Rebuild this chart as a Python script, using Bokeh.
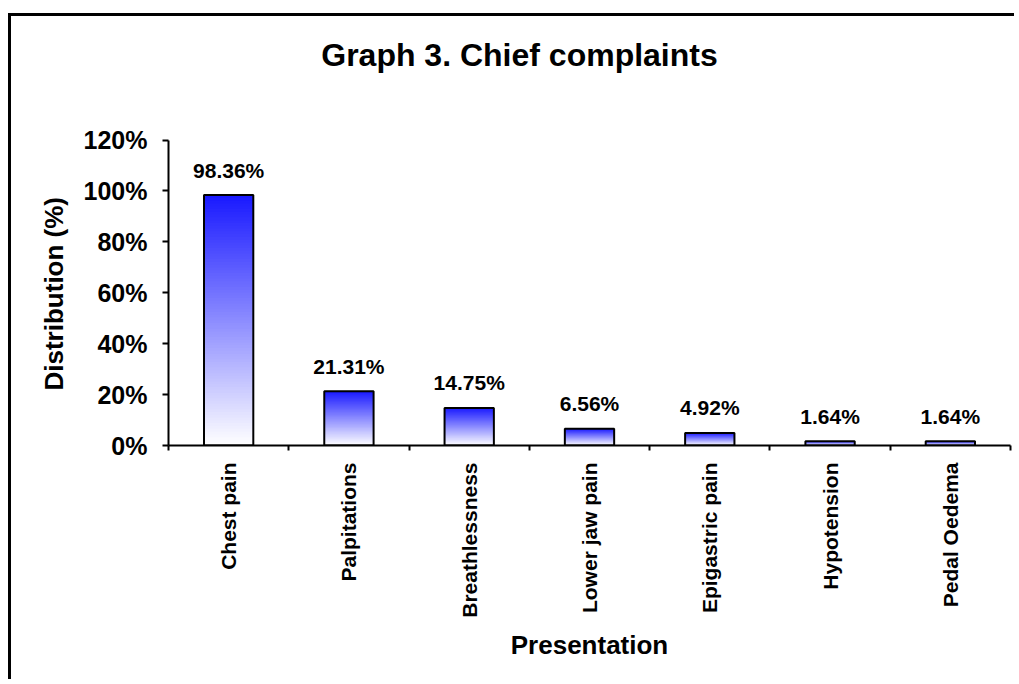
import math
from bokeh.plotting import figure
from bokeh.models import Range1d, FixedTicker, PrintfTickFormatter, Label, Title
from bokeh.core.properties import value
from bokeh.embed import file_html
from bokeh.resources import INLINE

# Chief complaints at presentation, as % of patients
categories = ["Chest pain", "Palpitations", "Breathlessness", "Lower jaw pain",
              "Epigastric pain", "Hypotension", "Pedal Oedema"]
distribution = [98.36, 21.31, 14.75, 6.56, 4.92, 1.64, 1.64]
y_ticks = [0, 20, 40, 60, 80, 100, 120]

FONT = "Liberation Sans"
BAR_WIDTH = 0.41
TOP_RGB = (25, 25, 255)   # colour at the top of each bar, fading to white at the base
N_STEPS = 90

# layout geometry (pixels): the frame reaches up to hold the title,
# while the value axis itself only spans 0..120 %
AXIS_PX = 305.5            # height of the 0..120 % axis
FRAME_PX = 419             # full frame height
Y_MAX = y_ticks[-1] * FRAME_PX / AXIS_PX

centers = [i + 0.5 for i in range(len(categories))]

p = figure(width=1006, height=666, output_backend="svg", toolbar_location=None,
           x_range=Range1d(0, len(categories)), y_range=Range1d(0, Y_MAX),
           min_border_left=157, min_border_right=7, min_border_top=10,
           min_border_bottom=237, tools="")
p.styles = {"margin-left": "8px", "margin-top": "13px",
            "border-top": "3px solid black", "border-left": "3px solid black"}

p.outline_line_color = None
p.xgrid.visible = False
p.ygrid.visible = False
p.background_fill_color = "white"
p.border_fill_color = "white"

# vertical gradient fill: stacked quads from the base, darkest (tallest) first
for k in range(N_STEPS):
    frac = (N_STEPS - k) / N_STEPS
    t = (N_STEPS - k - 0.5) / N_STEPS
    r = round(255 + (TOP_RGB[0] - 255) * t)
    g = round(255 + (TOP_RGB[1] - 255) * t)
    b = round(255 + (TOP_RGB[2] - 255) * t)
    color = "#%02x%02x%02x" % (r, g, b)
    p.quad(left=[c - BAR_WIDTH / 2 for c in centers],
           right=[c + BAR_WIDTH / 2 for c in centers],
           bottom=0, top=[v * frac for v in distribution],
           fill_color=color, line_color=None)

# bar outlines
p.vbar(x=centers, width=BAR_WIDTH, top=distribution, bottom=0,
       fill_color=None, line_color="black", line_width=2)

# value labels above the bars
p.text(x=centers, y=distribution, text=[f"{v:.2f}%" for v in distribution],
       text_font=value(FONT), text_font_style="bold", text_font_size="21px",
       text_align="center", text_baseline="alphabetic", y_offset=-25,
       text_color="black")

# chart title, centred over the whole chart area (screen units from the frame corner)
p.add_layout(Label(text="Graph 3. Chief complaints", x=351, y=391,
                   x_units="screen", y_units="screen",
                   text_font=FONT, text_font_style="bold", text_font_size="32px",
                   text_align="center", text_baseline="alphabetic",
                   text_color="black"))

# value-axis title, centred on the 0..120 % span of the axis
p.add_layout(Title(text="Distribution (%)", text_font=FONT, text_font_style="bold",
                   text_font_size="26px", text_color="black",
                   align="left", offset=55, standoff=24), "left")

# x axis: labels centred on bars, ticks on category boundaries
xa = p.xaxis[0]
xa.ticker = FixedTicker(ticks=centers, minor_ticks=list(range(len(categories) + 1)))
xa.major_label_overrides = {c: name for c, name in zip(centers, categories)}
xa.major_label_orientation = math.pi / 2
xa.major_label_text_font = FONT
xa.major_label_text_font_style = "bold"
xa.major_label_text_font_size = "21px"
xa.major_label_text_color = "black"
xa.major_tick_line_color = None
xa.major_tick_out = 5
xa.major_tick_in = 0
xa.minor_tick_line_color = "black"
xa.minor_tick_line_width = 2
xa.minor_tick_out = 5
xa.minor_tick_in = 0
xa.major_label_standoff = 12
xa.axis_line_color = "black"
xa.axis_line_width = 2
xa.axis_label = "Presentation"
xa.axis_label_text_font = FONT
xa.axis_label_text_font_style = "bold"
xa.axis_label_text_font_size = "26px"
xa.axis_label_text_color = "black"
xa.axis_label_standoff = 9

# y axis, limited to 0..120 %
ya = p.yaxis[0]
ya.bounds = (y_ticks[0], y_ticks[-1])
ya.ticker = FixedTicker(ticks=y_ticks, minor_ticks=[])
ya.formatter = PrintfTickFormatter(format="%d%%")
ya.major_label_text_font = FONT
ya.major_label_text_font_style = "bold"
ya.major_label_text_font_size = "25px"
ya.major_label_text_color = "black"
ya.major_tick_line_color = "black"
ya.major_tick_line_width = 2
ya.major_tick_out = 6
ya.major_tick_in = 0
ya.minor_tick_line_color = None
ya.major_label_standoff = 15
ya.axis_line_color = "black"
ya.axis_line_width = 2

open("out.html", "w").write(file_html(p, INLINE))
